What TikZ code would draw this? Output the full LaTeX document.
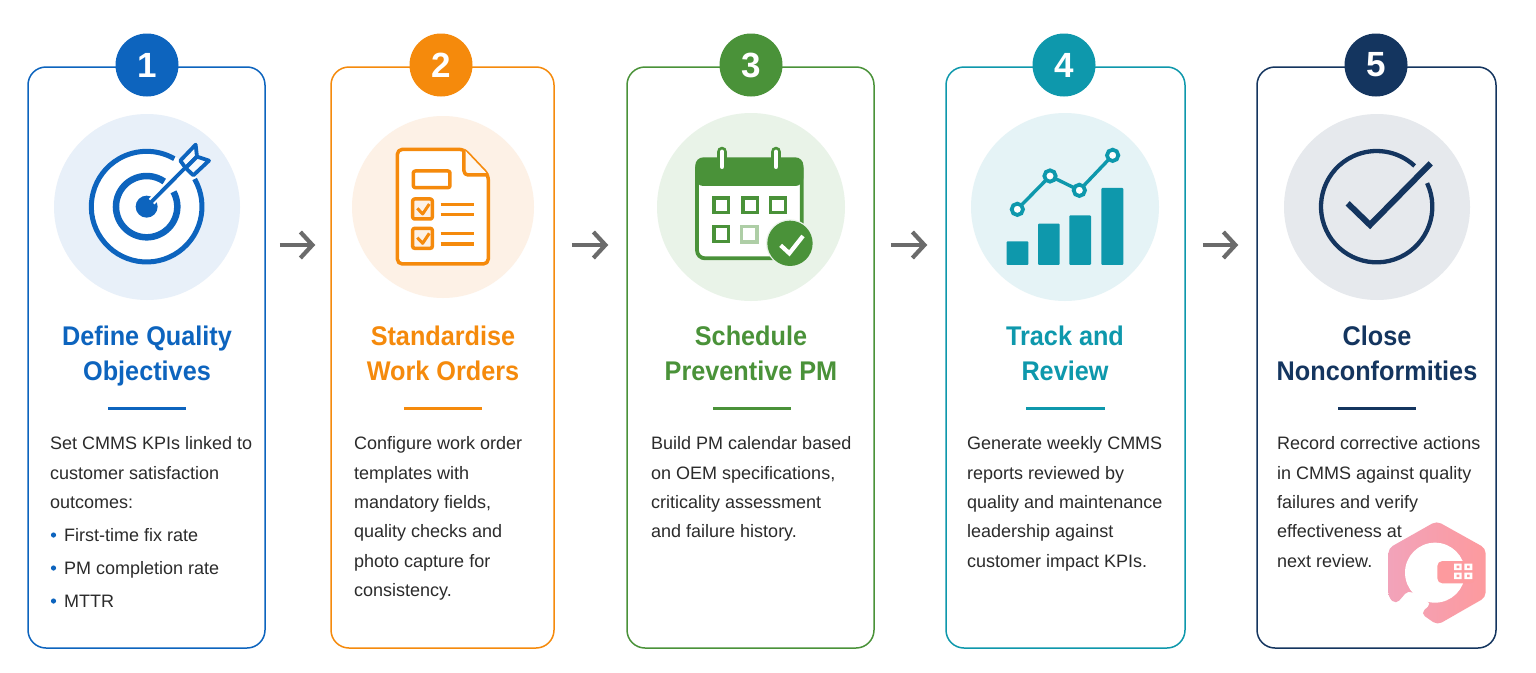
\documentclass[tikz,border=0pt]{standalone}
\usepackage{fontspec}
\setmainfont{Liberation Sans}
\newfontfamily\headfont[FakeStretch=0.935]{Liberation Sans}
\usetikzlibrary{arrows.meta}
\definecolor{cA}{HTML}{0D64BE}\definecolor{pA}{HTML}{E8F0F9}
\definecolor{cB}{HTML}{F58A0C}\definecolor{pB}{HTML}{FDF1E6}
\definecolor{cC}{HTML}{4A9239}\definecolor{pC}{HTML}{E9F3E8}
\definecolor{cD}{HTML}{0E98AC}\definecolor{pD}{HTML}{E5F3F6}
\definecolor{cE}{HTML}{14355F}\definecolor{pE}{HTML}{E6E9ED}
\definecolor{ink}{HTML}{2B2B2B}
\definecolor{wmA}{HTML}{F2A3BA}\definecolor{wmB}{HTML}{FD9A9E}
\tikzset{
  card/.style={draw=#1,fill=white,line width=1.5pt,rounded corners=18pt,inner sep=0pt,minimum height=581pt},
  badge/.style={circle,fill=#1,text=white,inner sep=0pt,minimum size=63pt,font=\fontsize{35}{35}\selectfont\bfseries},
  halo/.style={circle,fill=#1,inner sep=0pt},
  heading/.style={text=#1,align=center,inner sep=0pt,anchor=north,font=\headfont\fontsize{27}{35}\selectfont\bfseries},
  bodytext/.style={text=ink,align=left,inner sep=0pt,anchor=north west,font=\fontsize{18}{29.4}\selectfont},
  flow/.style={draw=black!58,line width=4.2pt,-{Straight Barb[length=12pt,width=26pt,line width=4.2pt]}},
  rulebar/.style={draw=#1,line width=2.4pt},
}
\newcommand{\firstline}{\rule{0pt}{20.5pt}}
\begin{document}
\begin{tikzpicture}[x=1pt,y=-1pt]
\useasboundingbox[fill=white] (0,0) rectangle (1536,672);
\coordinate (ay) at (0,245);
% cards
\node[card=cA,minimum width=237pt] (c1) at (146.5,357.5) {};
\node[card=cB,minimum width=223pt] (c2) at (442.5,357.5) {};
\node[card=cC,minimum width=247pt] (c3) at (750.5,357.5) {};
\node[card=cD,minimum width=239pt] (c4) at (1065.5,357.5) {};
\node[card=cE,minimum width=239pt] (c5) at (1376.5,357.5) {};
% badges
\node[badge=cA] (b1) at (147,65) {1};
\node[badge=cB] (b2) at (441,65) {2};
\node[badge=cC] (b3) at (751,65) {3};
\node[badge=cD] (b4) at (1064,65) {4};
\node[badge=cE] (b5) at (1376,65) {5};
% arrows
\draw[flow,shorten <=14pt,shorten >=15pt] (c1.east |- ay) -- (c2.west |- ay);
\draw[flow,shorten <=17pt,shorten >=18pt] (c2.east |- ay) -- (c3.west |- ay);
\draw[flow,shorten <=16pt,shorten >=18pt] (c3.east |- ay) -- (c4.west |- ay);
\draw[flow,shorten <=17pt,shorten >=18pt] (c4.east |- ay) -- (c5.west |- ay);
% pale discs
\node[halo=pA,minimum size=186pt] (h1) at (147,207) {};
\node[halo=pB,minimum size=182pt] (h2) at (443,207) {};
\node[halo=pC,minimum size=188pt] (h3) at (751,207) {};
\node[halo=pD,minimum size=188pt] (h4) at (1065,207) {};
\node[halo=pE,minimum size=186pt] (h5) at (1377,207) {};
% icon 1 target
\begin{scope}[shift={(20,30)},x=0.3333pt,y=-0.3333pt]
  \fill[white] (380,530) circle[radius=172];
  \draw[cA,line width=5pt] (380,530) ++(-30:166) arc[start angle=-30,end angle=300,radius=166];
  \draw[cA,line width=6.5pt] (380,530) ++(-29:92) arc[start angle=-29,end angle=305,radius=92];
  \fill[cA] (380,530) circle[radius=33];
  \draw[white,line width=8pt] (395,515) -- (495,412);
  \draw[cA,line width=3.8pt,line cap=round] (384,526) -- (497,412);
  \draw[cA,fill=pA!35!white,line width=3.8pt,line join=round] (481,392) -- (527,344) -- (531,380) -- (497,414) -- cycle;
  \draw[cA,fill=pA!35!white,line width=3.8pt,line join=round] (497,414) -- (531,380) -- (567,392) -- (520,436) -- cycle;
\end{scope}
% icon 2 document
\begin{scope}[shift={(340,110)},x=0.3333pt,y=-0.3333pt,cB,line width=3.5pt,line join=round]
  \draw[fill=white,rounded corners=5pt] (172,118) -- (372,118) -- (445,195) -- (445,462) -- (172,462) -- cycle;
  \draw[fill=pB!50,rounded corners=4pt] (372,118) -- (372,195) -- (445,195);
  \draw[rounded corners=2pt] (220,183) rectangle (330,233);
  \draw[fill=pB,rounded corners=2pt] (218,267) rectangle (277,327);
  \draw[fill=pB,rounded corners=2pt] (218,355) rectangle (277,415);
  \draw[line width=3pt] (232,295) -- (248,312) -- (268,282);
  \draw[line width=3pt] (232,383) -- (248,400) -- (268,370);
  \draw (302,284) -- (403,284);
  \draw (302,314) -- (403,314);
  \draw (302,371) -- (403,371);
  \draw (302,402) -- (403,402);
\end{scope}
% icon 3 calendar
\begin{scope}[shift={(650,110)},x=0.3333pt,y=-0.3333pt,cC]
  \draw[line width=3.8pt,fill=white,rounded corners=8pt] (141,150) rectangle (455,445);
  \fill[rounded corners=8pt] (136,228) -- (136,142) -- (460,142) -- (460,228) -- cycle;
  \foreach \xx in {216,378} {
    \draw[cC,line width=10.6pt,line cap=round] (\xx,126) -- (\xx,170);
    \draw[white,line width=4.8pt,line cap=round] (\xx,126) -- (\xx,170);
  }
  \foreach \xx in {192,279,362} \draw[line width=3.4pt] (\xx,264) rectangle ++(44,44);
  \draw[line width=3.4pt] (192,350) rectangle ++(44,44);
  \draw[line width=3.4pt,cC!45!white] (275,350) rectangle ++(46,46);
  \fill[pC] (420,400) circle[radius=72];
  \fill (420,400) circle[radius=68];
  \draw[white,line width=4.2pt] (392,406) -- (418,430) -- (459,378);
\end{scope}
% icon 4 chart
\begin{scope}[shift={(960,110)},x=0.3333pt,y=-0.3333pt,cD]
  \fill[rounded corners=1pt] (140,394) rectangle (205,465);
  \fill[rounded corners=1pt] (234,341) rectangle (299,465);
  \fill[rounded corners=1pt] (328,316) rectangle (393,465);
  \fill[rounded corners=1pt] (424,234) rectangle (490,465);
  \draw[line width=3.4pt] (172,298) -- (270,198) -- (358,241) -- (458,136);
  \foreach \xx/\yy in {172/298,270/198,358/241,458/136}
    \draw[line width=3.8pt,fill=white] (\xx,\yy) circle[radius=17];
\end{scope}
% icon 5 check
\begin{scope}[shift={(1290,130)},x=0.3333pt,y=-0.3333pt,cE]
  \draw[line width=4.3pt] (260,230) ++(-25:167) arc[start angle=-25,end angle=313,radius=167];
  \draw[line width=6pt,line join=miter] (173,220) -- (240,285) -- (422,100);
\end{scope}
% stamp
\begin{scope}[shift={(1380,515)},x=0.3333pt,y=-0.3333pt]
  \shade[left color=wmA,right color=wmB,rounded corners=5pt]
    (170,18) -- (317,100) -- (317,247) -- (172,330) -- (122,295) -- (155,265) -- (85,225) -- (48,268) -- (25,247) -- (25,100) -- cycle;
  \fill[white] (165,173) circle[radius=90];
  \fill[wmB,rounded corners=5pt] (172,138) -- (262,138) -- (285,138) -- (285,205) -- (172,205) -- cycle;
  \fill[white] (222,146) rectangle (245,165) (253,146) rectangle (277,165) (222,173) rectangle (245,192) (253,173) rectangle (277,192);
  \fill[wmB] (230,152) rectangle (238,159) (261,152) rectangle (269,159) (230,179) rectangle (238,186) (261,179) rectangle (269,186);
\end{scope}
% headings
\node[heading=cA] (t1) at (147,326) {Define Quality\\Objectives};
\node[heading=cB] (t2) at (443,326) {Standardise\\Work Orders};
\node[heading=cC] (t3) at (751,326) {Schedule\\Preventive PM};
\node[heading=cD] (t4) at (1065,326) {Track and\\Review};
\node[heading=cE] (t5) at (1377,326) {Close\\Nonconformities};
% rules
\draw[rulebar=cA] (108,408.5) -- (186,408.5);
\draw[rulebar=cB] (404,408.5) -- (482,408.5);
\draw[rulebar=cC] (713,408.5) -- (791,408.5);
\draw[rulebar=cD] (1026,408.5) -- (1105,408.5);
\draw[rulebar=cE] (1338,408.5) -- (1416,408.5);
% body text
\node[bodytext] (d1) at (50,429) {\firstline Set CMMS KPIs linked to\\customer satisfaction\\outcomes:};
\node[bodytext] (d1a) at (64,521) {\firstline First-time fix rate};
\node[bodytext] (d1b) at (64,554) {\firstline PM completion rate};
\node[bodytext] (d1c) at (64,587) {\firstline MTTR};
\fill[cA] (53.5,535) circle[radius=2.6] (53.5,568) circle[radius=2.6] (53.5,601) circle[radius=2.6];
\node[bodytext] (d2) at (354,429) {\firstline Configure work order\\templates with\\mandatory fields,\\quality checks and\\photo capture for\\consistency.};
\node[bodytext] (d3) at (651,429) {\firstline Build PM calendar based\\on OEM specifications,\\criticality assessment\\and failure history.};
\node[bodytext] (d4) at (967,429) {\firstline Generate weekly CMMS\\reports reviewed by\\quality and maintenance\\leadership against\\customer impact KPIs.};
\node[bodytext] (d5) at (1277,429) {\firstline Record corrective actions\\in CMMS against quality\\failures and verify\\effectiveness at\\next review.};
\end{tikzpicture}
\end{document}
